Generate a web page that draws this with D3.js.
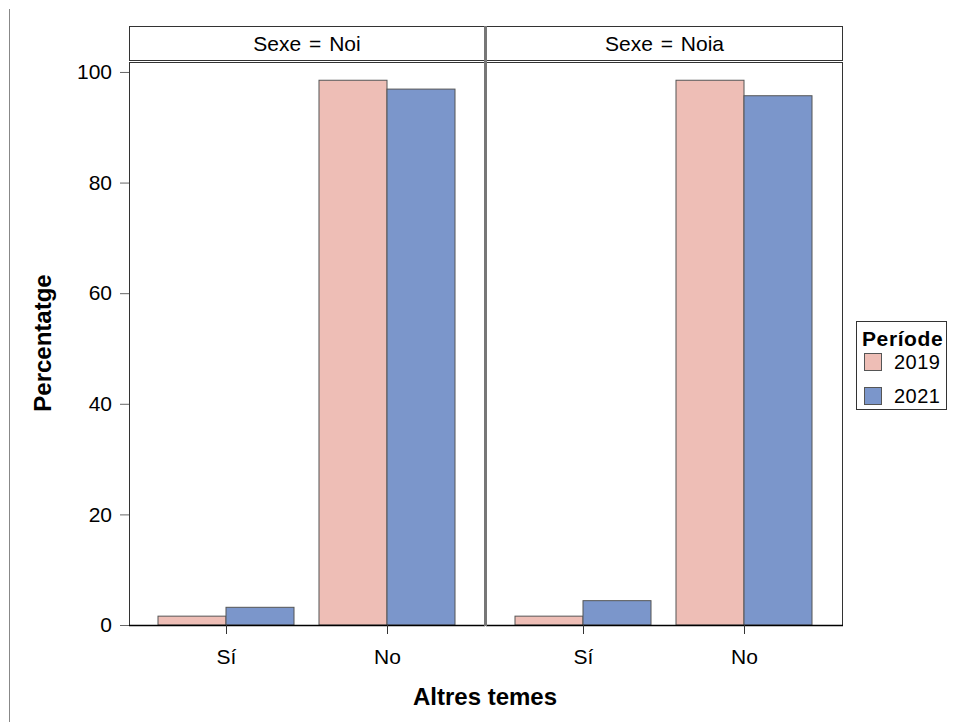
<!DOCTYPE html>
<html><head><meta charset="utf-8">
<script src="https://cdn.jsdelivr.net/npm/d3@7"></script>
<style>body{margin:0;background:#fff}svg{display:block}text{font-family:Arial,"Liberation Sans",sans-serif}</style>
</head><body>
<svg id="c" width="956" height="722"></svg>
<script>
const panels = ["Sexe = Noi", "Sexe = Noia"];
const categories = ["Sí", "No"];
const periods = ["2019", "2021"];
const values2019 = [[1.6, 98.5], [1.6, 98.5]];
const values2021 = [[3.2, 96.9], [4.4, 95.7]];
const yTicks = [0, 20, 40, 60, 80, 100];
const colors = ["#EEBEB6", "#7B96CB"];

const svg = d3.select("#c");
svg.append("line").attr("x1", 9.5).attr("x2", 9.5).attr("y1", 9).attr("y2", 722).attr("stroke", "#888").attr("stroke-width", 1);

const panelX = [[129, 485], [486, 843]];
const plotTop = 62, plotBot = 625, stripTop = 26, stripBot = 60;
const y = d3.scaleLinear().domain([0, 101.8]).range([plotBot, plotTop]);

panels.forEach((p, i) => {
  const [x0, x1] = panelX[i];
  const g = svg.append("g");
  const xc = d3.scalePoint().domain(categories).range([x0 + 97, x0 + 258]);
  const xs = d3.scaleBand().domain(periods).range([-68, 68]);
  g.append("rect").attr("x", x0 + 0.5).attr("y", stripTop + 0.5).attr("width", x1 - x0 - 1).attr("height", stripBot - stripTop)
    .attr("fill", "#fff").attr("stroke", "#333").attr("stroke-width", 1);
  g.append("text").attr("x", (x0 + x1) / 2).attr("y", 51).attr("text-anchor", "middle").attr("font-size", 21)
    .attr("word-spacing", 2).attr("fill", "#000").text(p);
  categories.forEach((c, ci) => {
    [values2019[i][ci], values2021[i][ci]].forEach((v, si) => {
      g.append("rect").attr("x", xc(c) + xs(periods[si])).attr("y", y(v)).attr("width", xs.bandwidth())
        .attr("height", y(0) - y(v)).attr("fill", colors[si]).attr("stroke", "#555").attr("stroke-width", 1);
    });
  });
  g.append("rect").attr("x", x0 + 0.5).attr("y", plotTop + 0.5).attr("width", x1 - x0 - 1).attr("height", plotBot - plotTop)
    .attr("fill", "none").attr("stroke", "#333").attr("stroke-width", 1);
  g.append("line").attr("x1", x0).attr("x2", x1).attr("y1", plotBot + 0.5).attr("y2", plotBot + 0.5).attr("stroke", "#000").attr("stroke-width", 1.5);
  const xa = g.append("g").attr("transform", `translate(0,${plotBot})`).call(d3.axisBottom(xc).tickSize(9).tickPadding(15));
  xa.select(".domain").remove();
  xa.selectAll(".tick line").attr("stroke", "#333");
  xa.selectAll("text").attr("font-size", 21).attr("fill", "#000").attr("font-family", "Arial, Liberation Sans, sans-serif");
});
svg.append("rect").attr("x", 484).attr("y", stripTop).attr("width", 3).attr("height", plotBot - stripTop + 1).attr("fill", "#777");

const ya = svg.append("g").attr("transform", `translate(129,0)`).call(d3.axisLeft(y).tickValues(yTicks).tickSize(9).tickPadding(8));
ya.select(".domain").remove();
ya.selectAll(".tick line").attr("stroke", "#666");
ya.selectAll("text").attr("font-size", 21).attr("fill", "#000").attr("font-family", "Arial, Liberation Sans, sans-serif");

svg.append("text").attr("transform", "translate(51,343) rotate(-90)").attr("text-anchor", "middle")
  .attr("font-size", 24).attr("font-weight", "bold").text("Percentatge");
svg.append("text").attr("x", 485).attr("y", 705).attr("text-anchor", "middle")
  .attr("font-size", 24).attr("font-weight", "bold").text("Altres temes");

const lg = svg.append("g");
lg.append("rect").attr("x", 856.5).attr("y", 321.5).attr("width", 90).attr("height", 88).attr("fill", "#fff").attr("stroke", "#333");
lg.append("text").attr("x", 862).attr("y", 346).attr("font-size", 21).attr("font-weight", "bold").attr("letter-spacing", 0.6).text("Període");
periods.forEach((p, i) => {
  const yy = 353 + i * 34;
  lg.append("rect").attr("x", 864.5).attr("y", yy + 0.5).attr("width", 17).attr("height", 17).attr("fill", colors[i]).attr("stroke", "#555");
  lg.append("text").attr("x", 894).attr("y", yy + 16).attr("font-size", 20).attr("letter-spacing", 0.5).text(p);
});
</script>
</body></html>
